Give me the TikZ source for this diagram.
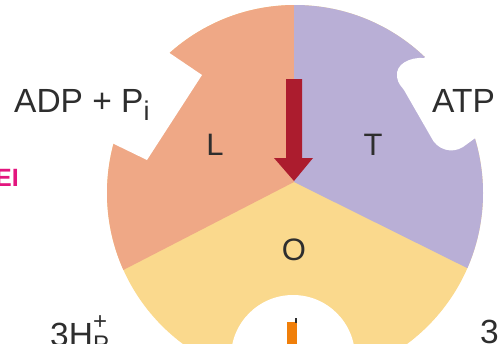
\documentclass[tikz,border=0pt]{standalone}
\usepackage{fontspec}
\setmainfont{Liberation Sans}
\definecolor{lcol}{HTML}{EFA886}
\definecolor{tcol}{HTML}{B9AFD6}
\definecolor{ocol}{HTML}{FAD98D}
\definecolor{arrowred}{HTML}{AC1C2E}
\definecolor{barorange}{HTML}{F07F0A}
\definecolor{inkgray}{HTML}{2E2E2E}
\definecolor{brandpink}{HTML}{E3157E}
\begin{document}
\begin{tikzpicture}[x=1pt,y=-1pt,
  label/.style={inner sep=0pt,text=inkgray,font=\fontsize{33.5}{33.5}\selectfont},
  sector/.style={inner sep=0pt,text=inkgray,font=\fontsize{31}{31}\selectfont}]
\useasboundingbox (0,0) rectangle (498,343);
\clip (0,0) rectangle (498,343);
% the three sectors, meeting at the hub just above the disc centre
\coordinate (hub) at (294,182);
\begin{scope}
  \clip (295,193) circle [radius=188];
  \fill[ocol] (295,193) circle [radius=190];
  \fill[lcol] (hub) -- (294,-100) -- (-200,-100) -- (-189,431) -- cycle;
  \fill[tcol] (hub) -- (294,-100) -- (700,-100) -- (783,425) -- cycle;
\end{scope}
% square binding notch in the L sector
\fill[white] (168,52) -- (202,75) -- (147,160) -- (112,143) -- (77,126) -- (134,29) -- cycle;
% rounded binding notch in the T sector
\fill[white] (445,40) -- (424,58)
  .. controls (410,57) and (395,64) .. (397,77)
  .. controls (398,84) and (402,87) .. (404,90)
  -- (431,137)
  .. controls (437,150) and (452,154) .. (463,147)
  -- (478,136) -- (500,120) -- cycle;
% central opening with the shaft
\fill[white] (293,357) circle [radius=62];
\fill[barorange] (287,322) rectangle (297,345);
\draw[inkgray, line width=1.2pt] (296,318) -- (296,323);
% rotation arrow
\fill[arrowred] (286,79) -- (302,79) -- (302,158) -- (313,158) -- (294,181) -- (274,158) -- (286,158) -- cycle;
% labels
\node[sector, anchor=base] (lbl) at (215,155) {L};
\node[sector, anchor=base] (tlbl) at (373,155) {T};
\node[sector, anchor=base] (olbl) at (294,260) {O};
\node[label, anchor=base west] (adp) at (14,112) {ADP + P\raisebox{-8pt}{\fontsize{27}{27}\selectfont i}};
\node[label, anchor=base west] (atp) at (432,112) {ATP};
\node[label, anchor=base west] (hp) at (50,346) {3H\rlap{\raisebox{17pt}{\fontsize{24}{24}\selectfont +}}\raisebox{-6pt}{\fontsize{24}{24}\selectfont P}};
\node[label, anchor=base west] (hn) at (480,343) {3};
\node[inner sep=0pt, anchor=base east, text=brandpink, font=\bfseries\fontsize{25}{25}\selectfont] (ei) at (19,186) {EI};
\end{tikzpicture}
\end{document}
